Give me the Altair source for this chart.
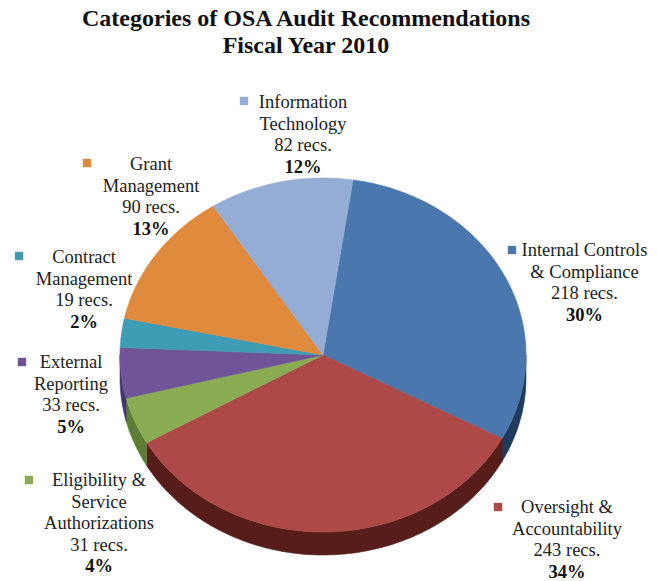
import math
import altair as alt

categories = ["Internal Controls & Compliance", "Oversight & Accountability",
              "Eligibility & Service Authorizations", "External Reporting",
              "Contract Management", "Grant Management", "Information Technology"]
recs = [218, 243, 31, 33, 19, 90, 82]
pcts = ["30%", "34%", "4%", "5%", "2%", "13%", "12%"]
name_lines = [["Internal Controls", "& Compliance"], ["Oversight &", "Accountability"],
              ["Eligibility &", "Service", "Authorizations"], ["External", "Reporting"],
              ["Contract", "Management"], ["Grant", "Management"], ["Information", "Technology"]]
colors = ["#4A78AE", "#AD4A47", "#8AAC52", "#6F5597", "#3F9CB5", "#E08A3E", "#95ACD4"]
walls = ["#1F3A5C", "#561D1A", "#5D7D35", "#453570", "#2A6A7C", "#9A5C24", "#64789A"]

# layout, in page pixels
W, H = 649, 573
OX, OY = 8, 64
CX, CY, RX, RY, DEPTH = 323, 355, 203, 177, 23
START = 8.5
label_x = [584.5, 567, 99, 71, 84, 151, 303]
label_y = [250, 507, 480, 362, 257, 164, 102]
LINE = 21.6
swatch_x = [512, 498, 29, 22, 19, 87, 244]
swatch_y = [250, 507, 480, 362, 256, 163, 101]


def pt(t, dy=0.0):
    r = math.radians(t)
    return [CX - OX + RX * math.sin(r), CY - OY - RY * math.cos(r) + dy]


def arc_pts(a, b, dy=0.0):
    n = max(2, int(abs(b - a)) + 1)
    return [pt(a + (b - a) * i / n, dy) for i in range(n + 1)]


def feature(ring, fill):
    ring = ring + [ring[0]]
    return {"type": "Feature", "geometry": {"type": "Polygon", "coordinates": [ring]},
            "properties": {"fill": fill}}


total = sum(recs)
wall_features, top_features = [], []
a = START
for v, c, wc in zip(recs, colors, walls):
    b = a + 360.0 * v / total
    top_features.append(feature([[CX - OX, CY - OY]] + arc_pts(a, b), c))
    lo, hi = max(a, 90.0), min(b, 270.0)
    if lo < hi:
        wall_features.append(feature(arc_pts(lo, hi) + arc_pts(hi, lo, DEPTH), wc))
    a = b

geo = dict(type="identity", scale=1, translate=[0, 0])


def shapes(features):
    return alt.Chart(alt.Data(values=features)).mark_geoshape(strokeWidth=0.6).encode(
        fill=alt.Fill("properties.fill:N", scale=None, legend=None),
        stroke=alt.Stroke("properties.fill:N", scale=None, legend=None),
    ).project(**geo)


plain_rows, bold_rows, swatch_rows = [], [], []
for i, lines in enumerate(name_lines):
    texts = lines + [f"{recs[i]} recs."]
    for j, s in enumerate(texts):
        plain_rows.append({"x": label_x[i] - OX, "y": label_y[i] + j * LINE - OY, "t": s})
    bold_rows.append({"x": label_x[i] - OX, "y": label_y[i] + len(texts) * LINE - OY, "t": pcts[i]})
    swatch_rows.append({"x": swatch_x[i] - OX, "y": swatch_y[i] - OY, "c": colors[i]})

x_enc = alt.X("x:Q", scale=alt.Scale(domain=[0, W], range=[0, W]), axis=None)
y_enc = alt.Y("y:Q", scale=alt.Scale(domain=[0, H - OY + 8], range=[0, H - OY + 8]), axis=None)

plain = alt.Chart(alt.Data(values=plain_rows)).mark_text(
    font="Liberation Serif", fontSize=18.5, color="#222222", align="center", baseline="middle"
).encode(x=x_enc, y=y_enc, text="t:N")
bold = alt.Chart(alt.Data(values=bold_rows)).mark_text(
    font="Liberation Serif", fontSize=18.5, fontWeight="bold", color="#111111", align="center", baseline="middle"
).encode(x=x_enc, y=y_enc, text="t:N")
swatches = alt.Chart(alt.Data(values=swatch_rows)).mark_square(size=70, opacity=1).encode(
    x=x_enc, y=y_enc, color=alt.Color("c:N", scale=None, legend=None)
)

chart = alt.layer(shapes(wall_features), shapes(top_features), swatches, plain, bold).properties(
    width=W - OX,
    height=H - OY + 8,
    padding={"left": 0, "top": 56, "right": 0, "bottom": 0},
    autosize=alt.AutoSizeParams(type="none"),
    title=alt.TitleParams(
        text=["Categories of OSA Audit Recommendations", "Fiscal Year 2010"],
        font="Liberation Serif", fontSize=24, fontWeight="bold", color="#111111",
        anchor="middle", dx=306 - OX - (W - OX) / 2, lineHeight=27, offset=6,
    ),
).configure_view(stroke=None).resolve_scale(x="shared", y="shared")

chart.save("out.html", embed_options={"renderer": "svg", "actions": False})
